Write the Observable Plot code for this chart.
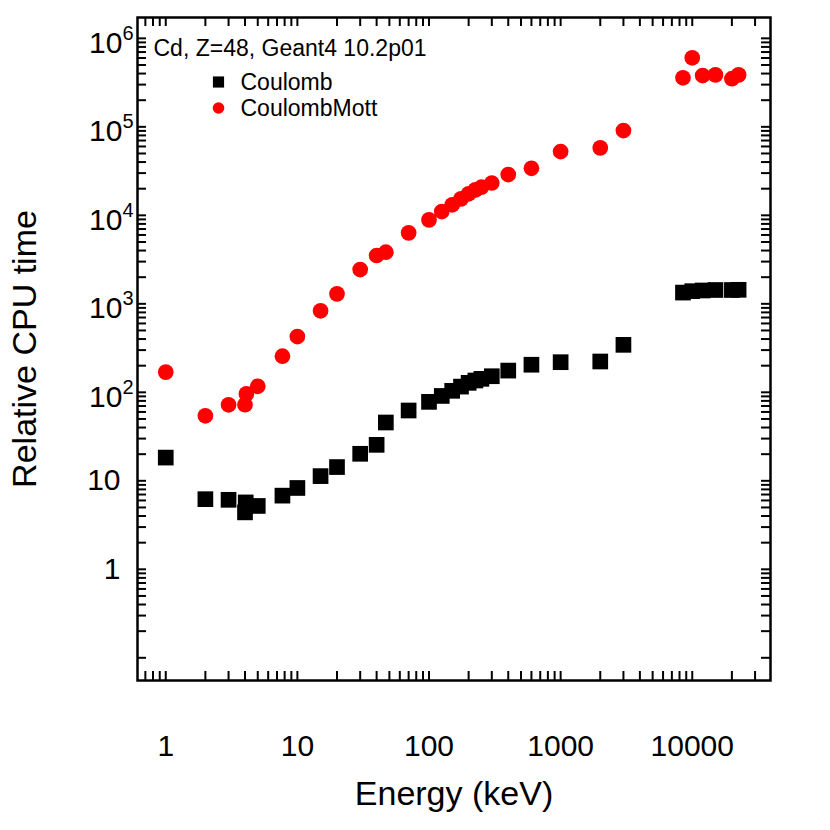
<!DOCTYPE html>
<html>
<head>
<meta charset="utf-8">
<script src="https://cdn.jsdelivr.net/npm/d3@7"></script>
<script src="https://cdn.jsdelivr.net/npm/@observablehq/plot@0.6"></script>
<style>
  html, body { margin: 0; padding: 0; background: #fff; }
  #chart { width: 830px; height: 830px; }
</style>
</head>
<body>
<div id="chart"></div>
<script>
// ---- data ----
const coulombEnergy = [1, 2, 3, 4.05, 4, 5, 7.7, 10, 15, 20, 30, 40, 47, 70, 100, 125, 150, 175, 200, 225, 250, 300, 400, 600, 1000, 2000, 3000, 8500, 10000, 12000, 15000, 20000, 22500];
const coulombTime = [18.3, 6.2, 6.1, 5.7, 4.4, 5.2, 6.8, 8.3, 11.3, 14.3, 20.2, 25.5, 45.6, 62.3, 78, 91, 104, 116, 128, 136, 142, 152, 176, 205, 219, 223, 344, 1340, 1390, 1415, 1433, 1433, 1440];
const mottEnergy = [1, 2, 3, 4, 4.1, 5, 7.7, 10, 15, 20, 30, 40, 47, 70, 100, 125, 150, 175, 200, 225, 250, 300, 400, 600, 1000, 2000, 3000, 8500, 10000, 12000, 15000, 20000, 22500];
const mottTime = [169, 54.3, 72.3, 72.5, 96, 117, 256, 427, 834, 1297, 2440, 3515, 3830, 6340, 8890, 11040, 13150, 15350, 17500, 19400, 20800, 23200, 28900, 34000, 52600, 57900, 90800, 358000, 603000, 380000, 387000, 350000, 387000];

const seriesNames = ["Coulomb", "CoulombMott"];
const annotation = "Cd, Z=48, Geant4 10.2p01";
const xTitle = "Energy (keV)";
const yTitle = "Relative CPU time";
const xTickLabels = [1, 10, 100, 1000, 10000];
const yTickLabels = [1, 10, 100, 1000, 10000, 100000, 1000000];
const xDomain = [0.61, 39300];
const yDomain = [0.0554, 1.72e6];
const yMinorFrom = 0.1;

// ---- tables ----
const coulomb = coulombEnergy.map((e, i) => ({E: e, t: coulombTime[i]}));
const mott = mottEnergy.map((e, i) => ({E: e, t: mottTime[i]}));
const xTicksAll = d3.scaleLog().domain(xDomain).ticks();
const yTicksAll = d3.scaleLog().domain([yMinorFrom, yDomain[1]]).ticks();

const W = 830, H = 830, mL = 137, mR = 60, mT = 17, mB = 150;
const fw = W - mL - mR, fh = H - mT - mB, tl = 9;

const chart = Plot.plot({
  width: W, height: H,
  marginLeft: mL, marginRight: mR, marginTop: mT, marginBottom: mB,
  style: {fontFamily: "'Liberation Sans', Arial, Helvetica, sans-serif", background: "#fff", color: "#000"},
  x: {type: "log", domain: xDomain, axis: null, label: null},
  y: {type: "log", domain: yDomain, axis: null, label: null},
  marks: [
    // inward ticks on all four sides
    Plot.gridX(xTicksAll, {stroke: "#000", strokeOpacity: 1, strokeWidth: 2, insetTop: fh - tl}),
    Plot.gridX(xTicksAll, {stroke: "#000", strokeOpacity: 1, strokeWidth: 2, insetBottom: fh - tl}),
    Plot.gridY(yTicksAll, {stroke: "#000", strokeOpacity: 1, strokeWidth: 2, insetRight: fw - tl}),
    Plot.gridY(yTicksAll, {stroke: "#000", strokeOpacity: 1, strokeWidth: 2, insetLeft: fw - tl}),
    // tick labels
    Plot.axisX(xTickLabels, {tickSize: 0, tickPadding: 54, fontSize: 30, tickFormat: d => String(d), label: null}),
    Plot.axisY(yTickLabels, {tickSize: 0, tickPadding: 17, fontSize: 30,
      tickFormat: d => (d < 100 ? String(d) : "10^" + Math.round(Math.log10(d))), label: null}),
    // axis titles
    Plot.text([xTitle], {frameAnchor: "bottom", dy: 114, textAnchor: "middle", lineAnchor: "middle", fontSize: 34, fill: "#000"}),
    Plot.text([yTitle], {frameAnchor: "left", dx: -112, rotate: -90, textAnchor: "middle", lineAnchor: "middle", fontSize: 34, fill: "#000"}),
    // data
    Plot.dot(coulomb, {x: "E", y: "t", symbol: "square", r: 8.85, fill: "#000", stroke: "none"}),
    Plot.dot(mott, {x: "E", y: "t", symbol: "circle", r: 7.85, fill: "#ff0000", stroke: "none"}),
    // legend / annotation
    Plot.text([annotation], {frameAnchor: "top-left", dx: 16, dy: 31, textAnchor: "start", lineAnchor: "middle", fontSize: 23, fill: "#000"}),
    Plot.dot([seriesNames[0]], {frameAnchor: "top-left", dx: 81, dy: 64.5, symbol: "square", r: 6.3, fill: "#000", stroke: "none"}),
    Plot.dot([seriesNames[1]], {frameAnchor: "top-left", dx: 81, dy: 90.5, symbol: "circle", r: 5.8, fill: "#ff0000", stroke: "none"}),
    Plot.text([seriesNames[0]], {frameAnchor: "top-left", dx: 103, dy: 65, textAnchor: "start", lineAnchor: "middle", fontSize: 23, fill: "#000"}),
    Plot.text([seriesNames[1]], {frameAnchor: "top-left", dx: 103, dy: 91, textAnchor: "start", lineAnchor: "middle", fontSize: 23, fill: "#000"}),
    Plot.frame({stroke: "#000", strokeWidth: 2.5})
  ]
});

// render exponents as superscripts
chart.querySelectorAll('g[aria-label="y-axis tick label"] text').forEach(t => {
  const m = t.textContent.match(/^10\^(\d+)$/);
  if (m) {
    t.textContent = "10";
    const sup = document.createElementNS("http://www.w3.org/2000/svg", "tspan");
    sup.setAttribute("dy", "-13");
    sup.setAttribute("font-size", "20");
    sup.textContent = m[1];
    t.appendChild(sup);
    const tr = t.getAttribute("transform");
    t.setAttribute("transform", (tr ? tr + " " : "") + "translate(13,5)");
  }
});

document.getElementById("chart").appendChild(chart);
</script>
</body>
</html>
